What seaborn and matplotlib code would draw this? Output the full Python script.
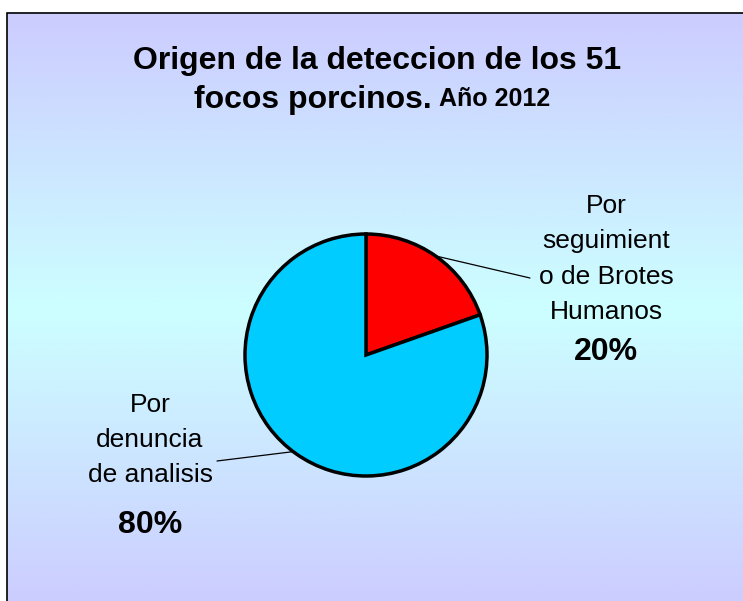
import numpy as np
import matplotlib
matplotlib.use("Agg")
import matplotlib.pyplot as plt
from matplotlib.colors import LinearSegmentedColormap
from matplotlib.patches import Rectangle
import seaborn as sns

# data (51 foci in total)
categories = ["Por\ndenuncia\nde analisis", "Por\nseguimient\no de Brotes\nHumanos"]
counts = [41, 10]
pct_labels = ["80%", "20%"]
slice_colors = ["#00CCFF", "#FF0000"]

sns.set_theme(style="white")
plt.rcParams['font.family'] = ['Liberation Sans', 'DejaVu Sans']
plt.rcParams['text.color'] = 'black'

W, H = 743, 601
fig = plt.figure(figsize=(W / 100, H / 100), dpi=100)
ax = fig.add_axes([0, 0, 1, 1])

# background gradient: lavender -> light cyan -> lavender
cmap = LinearSegmentedColormap.from_list("bg", ["#CCCCFF", "#CCFFFF", "#CCCCFF"])
grad = np.linspace(0, 1, 256).reshape(-1, 1)
ax.imshow(grad, cmap=cmap, aspect="auto", extent=[7, W + 5, -5, H - 13], zorder=0)
ax.add_patch(Rectangle((7, -5), W, H - 8, fill=False, edgecolor="black", lw=1.2, zorder=1))

# pie: red slice first, clockwise from 12 o'clock
cx, cy, r = 366, H - 355, 121
ax.pie([counts[1], counts[0]], colors=[slice_colors[1], slice_colors[0]],
       startangle=90, counterclock=False, center=(cx, cy), radius=r,
       wedgeprops=dict(edgecolor="black", linewidth=2.5), frame=True)
ax.set_xlim(0, W)
ax.set_ylim(0, H)
ax.set_aspect("equal")
ax.axis("off")

# title
ax.text(377, H - 61, "Origen de la deteccion de los 51", ha="center", va="center",
        fontsize=23, fontweight="bold", color="black")
ax.text(432, H - 100, "focos porcinos.", ha="right", va="center", fontsize=23,
        fontweight="bold", color="black")
ax.text(439, H - 99, "Año 2012", ha="left", va="center", fontsize=18,
        fontweight="bold", color="black")

# leader lines
def edge(angle):
    a = np.deg2rad(angle)
    return cx + r * np.cos(a), cy + r * np.sin(a)

ax.annotate("", xy=edge(55), xytext=(530, H - 278),
            arrowprops=dict(arrowstyle="-", color="black", lw=0.9, shrinkA=0, shrinkB=0))
ax.annotate("", xy=edge(-127), xytext=(217, H - 461),
            arrowprops=dict(arrowstyle="-", color="black", lw=0.9, shrinkA=0, shrinkB=0))

# labels
ax.text(606, H - 259, categories[1], ha="center", va="center", fontsize=19,
        linespacing=1.58, color="black")
ax.text(606, H - 352, pct_labels[1], ha="center", va="center", fontsize=23,
        fontweight="bold", color="black")
ax.text(150, H - 440, categories[0], ha="center", va="center", fontsize=19,
        linespacing=1.58, color="black")
ax.text(150, H - 525, pct_labels[0], ha="center", va="center", fontsize=23,
        fontweight="bold", color="black")

fig.savefig("out.png", dpi=100)
